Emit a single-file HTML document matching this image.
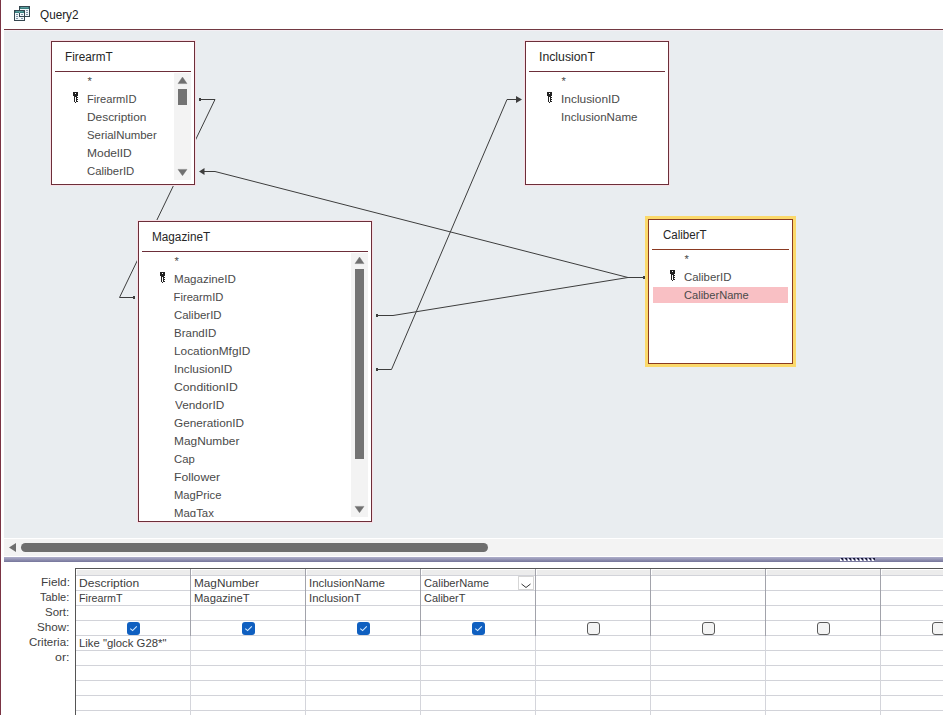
<!DOCTYPE html>
<html><head><meta charset="utf-8"><title>Query2</title>
<style>
*{margin:0;padding:0;box-sizing:border-box}
html,body{width:943px;height:715px;overflow:hidden;background:#fff;font-family:"Liberation Sans",sans-serif;color:#3a3a3a}
.abs{position:absolute}
</style></head><body>
<div class="abs" style="left:0;top:0;width:1px;height:715px;background:#7a3444"></div>
<svg class="abs" style="left:14px;top:6px" width="17" height="16" shape-rendering="crispEdges"><rect x="5" y="0" width="11" height="11" fill="#35464f"/><rect x="6" y="1" width="9" height="2" fill="#3a7f7f"/><rect x="7" y="1" width="7" height="1" fill="#5a9e9e"/><rect x="6" y="3" width="9" height="7" fill="#f0f6f9"/><rect x="12" y="4" width="2" height="1" fill="#7f93a6"/><rect x="12" y="6" width="2" height="1" fill="#7f93a6"/><rect x="12" y="8" width="2" height="1" fill="#7f93a6"/><rect x="0" y="4" width="11" height="11" fill="#35464f"/><rect x="1" y="5" width="9" height="2" fill="#3a7f7f"/><rect x="2" y="5" width="7" height="1" fill="#5a9e9e"/><rect x="5" y="5" width="1" height="2" fill="#6aa6a6"/><rect x="1" y="7" width="9" height="7" fill="#f0f6f9"/><rect x="2" y="8" width="2" height="1" fill="#7f93a6"/><rect x="2" y="10" width="2" height="1" fill="#7f93a6"/><rect x="2" y="12" width="2" height="1" fill="#7f93a6"/><rect x="7" y="8" width="2" height="1" fill="#7f93a6"/><rect x="7" y="12" width="2" height="1" fill="#7f93a6"/><rect x="5" y="7" width="1" height="4" fill="#35464f"/><rect x="5" y="10" width="6" height="1" fill="#35464f"/></svg>
<div class="abs" style="left:40.02px;top:8.0px;font-size:12px;line-height:14px;color:#222;white-space:nowrap;transform-origin:0 0;transform:scaleX(0.9789)">Query2</div>
<div class="abs" style="left:4px;top:29px;width:939px;height:1px;background:#723942"></div>
<div class="abs" style="left:4px;top:30px;width:939px;height:508px;background:#e9edf0"></div>
<div class="abs" style="left:4px;top:30px;width:939px;height:1px;background:#f3eef3"></div>
<svg class="abs" style="left:0;top:0" width="943" height="540">
<g stroke="#3d3d3d" stroke-width="1" fill="none">
<polyline points="199,99.5 215,99.5 119.5,297.5 134,297.5"/>
<polyline points="204,171.5 215,171.5 628,277.5 644,277.5"/>
<polyline points="377,315.5 393,315.5 628,277.5"/>
<polyline points="377,369.5 391.5,369.5 507,99.5 516,99.5"/>
</g>
<g fill="#3d3d3d">
<rect x="199" y="98" width="2" height="3"/>
<rect x="376" y="314" width="2" height="3"/>
<rect x="376" y="368" width="2" height="3"/>
<rect x="133" y="296" width="2" height="3"/>
<rect x="643" y="276" width="2" height="3"/>
<polygon points="199,171.5 204.5,168 204.5,175"/>
<polygon points="522,99.5 516,96 516,103"/>
</g>
</svg>
<div class="abs" style="left:51px;top:41px;width:144px;height:144px;background:#fff;border:1px solid #6c2e39;box-shadow:0 0 0 1px #f8dfe6"></div>
<div class="abs" style="left:65.02px;top:50.0px;font-size:12px;line-height:14px;color:#262626;white-space:nowrap;transform-origin:0 0;transform:scaleX(0.9787)">FirearmT</div>
<div class="abs" style="left:55px;top:71px;width:136px;height:1px;background:#6c2e39"></div>
<div class="abs" style="left:52px;top:73px;width:142px;height:108px;overflow:hidden">
<div class="abs" style="left:-52px;top:-73px;width:943px;height:715px">
<div class="abs" style="left:87.60px;top:74.0px;font-size:11.2px;line-height:14px;color:#4a4a4a;white-space:nowrap">*</div>
<div class="abs" style="left:86.60px;top:92.0px;font-size:11.2px;line-height:14px;color:#4a4a4a;white-space:nowrap;transform-origin:0 0;transform:scaleX(0.9958)">FirearmID</div>
<div class="abs" style="left:86.54px;top:110.0px;font-size:11.2px;line-height:14px;color:#4a4a4a;white-space:nowrap;transform-origin:0 0;transform:scaleX(1.0630)">Description</div>
<div class="abs" style="left:86.58px;top:128.0px;font-size:11.2px;line-height:14px;color:#4a4a4a;white-space:nowrap;transform-origin:0 0;transform:scaleX(1.0194)">SerialNumber</div>
<div class="abs" style="left:86.53px;top:146.0px;font-size:11.2px;line-height:14px;color:#4a4a4a;white-space:nowrap;transform-origin:0 0;transform:scaleX(1.0725)">ModelID</div>
<div class="abs" style="left:86.59px;top:164.0px;font-size:11.2px;line-height:14px;color:#4a4a4a;white-space:nowrap;transform-origin:0 0;transform:scaleX(1.0133)">CaliberID</div>
<div class="abs" style="left:86.57px;top:182.0px;font-size:11.2px;line-height:14px;color:#4a4a4a;white-space:nowrap;transform-origin:0 0;transform:scaleX(1.0300)">BrandID</div>
</div></div>
<svg class="abs" style="left:73px;top:92px" width="6" height="12" viewBox="0 0 6 12" shape-rendering="crispEdges"><rect x="0" y="0" width="5" height="4" fill="#222"/><rect x="2" y="1" width="1" height="1" fill="#fff"/><rect x="1" y="4" width="3" height="6" fill="#222"/><rect x="2" y="5" width="1" height="5" fill="#fff"/><rect x="2" y="10" width="1" height="1" fill="#222"/><rect x="4" y="5" width="1" height="1" fill="#222"/><rect x="4" y="7" width="1" height="1" fill="#222"/><rect x="4" y="9" width="1" height="1" fill="#222"/></svg>
<div class="abs" style="left:174px;top:73px;width:17px;height:107px;background:#f3f3f3"></div>
<svg class="abs" style="left:174px;top:73px" width="17" height="12"><polygon points="4,10.6 13,10.6 8.5,4" fill="#707070" stroke="#707070" stroke-width="0.4" stroke-linejoin="round"/></svg>
<svg class="abs" style="left:174px;top:168px" width="17" height="12"><polygon points="4,1.4 13,1.4 8.5,7.7" fill="#707070" stroke="#707070" stroke-width="0.4" stroke-linejoin="round"/></svg>
<div class="abs" style="left:178px;top:89px;width:9px;height:16px;background:#737373"></div>
<div class="abs" style="left:525px;top:41px;width:144px;height:144px;background:#fff;border:1px solid #6c2e39;box-shadow:0 0 0 1px #f8dfe6"></div>
<div class="abs" style="left:538.98px;top:50.0px;font-size:12px;line-height:14px;color:#262626;white-space:nowrap;transform-origin:0 0;transform:scaleX(1.0226)">InclusionT</div>
<div class="abs" style="left:529px;top:71px;width:136px;height:1px;background:#6c2e39"></div>
<div class="abs" style="left:526px;top:73px;width:142px;height:108px;overflow:hidden">
<div class="abs" style="left:-526px;top:-73px;width:943px;height:715px">
<div class="abs" style="left:561.60px;top:74.0px;font-size:11.2px;line-height:14px;color:#4a4a4a;white-space:nowrap">*</div>
<div class="abs" style="left:560.54px;top:92.0px;font-size:11.2px;line-height:14px;color:#4a4a4a;white-space:nowrap;transform-origin:0 0;transform:scaleX(1.0648)">InclusionID</div>
<div class="abs" style="left:560.57px;top:110.0px;font-size:11.2px;line-height:14px;color:#4a4a4a;white-space:nowrap;transform-origin:0 0;transform:scaleX(1.0329)">InclusionName</div>
</div></div>
<svg class="abs" style="left:547px;top:92px" width="6" height="12" viewBox="0 0 6 12" shape-rendering="crispEdges"><rect x="0" y="0" width="5" height="4" fill="#222"/><rect x="2" y="1" width="1" height="1" fill="#fff"/><rect x="1" y="4" width="3" height="6" fill="#222"/><rect x="2" y="5" width="1" height="5" fill="#fff"/><rect x="2" y="10" width="1" height="1" fill="#222"/><rect x="4" y="5" width="1" height="1" fill="#222"/><rect x="4" y="7" width="1" height="1" fill="#222"/><rect x="4" y="9" width="1" height="1" fill="#222"/></svg>
<div class="abs" style="left:138px;top:221px;width:234px;height:301px;background:#fff;border:1px solid #6c2e39;box-shadow:0 0 0 1px #f8dfe6"></div>
<div class="abs" style="left:151.72px;top:230.0px;font-size:12px;line-height:14px;color:#262626;white-space:nowrap;transform-origin:0 0;transform:scaleX(0.9793)">MagazineT</div>
<div class="abs" style="left:142px;top:251px;width:226px;height:1px;background:#6c2e39"></div>
<div class="abs" style="left:139px;top:253px;width:232px;height:264px;overflow:hidden">
<div class="abs" style="left:-139px;top:-253px;width:943px;height:715px">
<div class="abs" style="left:174.60px;top:254.0px;font-size:11.2px;line-height:14px;color:#4a4a4a;white-space:nowrap">*</div>
<div class="abs" style="left:173.57px;top:272.0px;font-size:11.2px;line-height:14px;color:#4a4a4a;white-space:nowrap;transform-origin:0 0;transform:scaleX(1.0345)">MagazineID</div>
<div class="abs" style="left:173.60px;top:290.0px;font-size:11.2px;line-height:14px;color:#4a4a4a;white-space:nowrap">FirearmID</div>
<div class="abs" style="left:173.58px;top:308.0px;font-size:11.2px;line-height:14px;color:#4a4a4a;white-space:nowrap;transform-origin:0 0;transform:scaleX(1.0200)">CaliberID</div>
<div class="abs" style="left:173.57px;top:326.0px;font-size:11.2px;line-height:14px;color:#4a4a4a;white-space:nowrap;transform-origin:0 0;transform:scaleX(1.0300)">BrandID</div>
<div class="abs" style="left:173.54px;top:344.0px;font-size:11.2px;line-height:14px;color:#4a4a4a;white-space:nowrap;transform-origin:0 0;transform:scaleX(1.0577)">LocationMfgID</div>
<div class="abs" style="left:173.55px;top:362.0px;font-size:11.2px;line-height:14px;color:#4a4a4a;white-space:nowrap;transform-origin:0 0;transform:scaleX(1.0537)">InclusionID</div>
<div class="abs" style="left:173.51px;top:380.0px;font-size:11.2px;line-height:14px;color:#4a4a4a;white-space:nowrap;transform-origin:0 0;transform:scaleX(1.0912)">ConditionID</div>
<div class="abs" style="left:174.60px;top:398.0px;font-size:11.2px;line-height:14px;color:#4a4a4a;white-space:nowrap;transform-origin:0 0;transform:scaleX(1.0543)">VendorID</div>
<div class="abs" style="left:173.55px;top:416.0px;font-size:11.2px;line-height:14px;color:#4a4a4a;white-space:nowrap;transform-origin:0 0;transform:scaleX(1.0538)">GenerationID</div>
<div class="abs" style="left:173.54px;top:434.0px;font-size:11.2px;line-height:14px;color:#4a4a4a;white-space:nowrap;transform-origin:0 0;transform:scaleX(1.0633)">MagNumber</div>
<div class="abs" style="left:173.59px;top:452.0px;font-size:11.2px;line-height:14px;color:#4a4a4a;white-space:nowrap;transform-origin:0 0;transform:scaleX(1.0105)">Cap</div>
<div class="abs" style="left:173.51px;top:470.0px;font-size:11.2px;line-height:14px;color:#4a4a4a;white-space:nowrap;transform-origin:0 0;transform:scaleX(1.0878)">Follower</div>
<div class="abs" style="left:173.60px;top:488.0px;font-size:11.2px;line-height:14px;color:#4a4a4a;white-space:nowrap;transform-origin:0 0;transform:scaleX(1.0043)">MagPrice</div>
<div class="abs" style="left:173.58px;top:506.0px;font-size:11.2px;line-height:14px;color:#4a4a4a;white-space:nowrap;transform-origin:0 0;transform:scaleX(1.0184)">MagTax</div>
<div class="abs" style="left:173.60px;top:524.0px;font-size:11.2px;line-height:14px;color:#4a4a4a;white-space:nowrap">MagNotes</div>
</div></div>
<svg class="abs" style="left:160px;top:272px" width="6" height="12" viewBox="0 0 6 12" shape-rendering="crispEdges"><rect x="0" y="0" width="5" height="4" fill="#222"/><rect x="2" y="1" width="1" height="1" fill="#fff"/><rect x="1" y="4" width="3" height="6" fill="#222"/><rect x="2" y="5" width="1" height="5" fill="#fff"/><rect x="2" y="10" width="1" height="1" fill="#222"/><rect x="4" y="5" width="1" height="1" fill="#222"/><rect x="4" y="7" width="1" height="1" fill="#222"/><rect x="4" y="9" width="1" height="1" fill="#222"/></svg>
<div class="abs" style="left:351px;top:253px;width:17px;height:264px;background:#f3f3f3"></div>
<svg class="abs" style="left:351px;top:253px" width="17" height="12"><polygon points="4,10.6 13,10.6 8.5,4" fill="#707070" stroke="#707070" stroke-width="0.4" stroke-linejoin="round"/></svg>
<svg class="abs" style="left:351px;top:505px" width="17" height="12"><polygon points="4,1.4 13,1.4 8.5,7.7" fill="#707070" stroke="#707070" stroke-width="0.4" stroke-linejoin="round"/></svg>
<div class="abs" style="left:355px;top:269px;width:9px;height:190px;background:#737373"></div>
<div class="abs" style="left:645px;top:216px;width:151px;height:151px;background:#fbd96b"></div>
<div class="abs" style="left:648px;top:219px;width:145px;height:145px;background:#fff;border:1px solid #8a3a22"></div>
<div class="abs" style="left:663.04px;top:228.0px;font-size:12px;line-height:14px;color:#262626;white-space:nowrap;transform-origin:0 0;transform:scaleX(0.9614)">CaliberT</div>
<div class="abs" style="left:652px;top:249px;width:137px;height:1px;background:#8a3a22"></div>
<div class="abs" style="left:653px;top:287px;width:135px;height:16px;background:#f9c0c4"></div>
<div class="abs" style="left:649px;top:251px;width:143px;height:109px;overflow:hidden">
<div class="abs" style="left:-649px;top:-251px;width:943px;height:715px">
<div class="abs" style="left:684.60px;top:252.0px;font-size:11.2px;line-height:14px;color:#4a4a4a;white-space:nowrap">*</div>
<div class="abs" style="left:683.58px;top:270.0px;font-size:11.2px;line-height:14px;color:#4a4a4a;white-space:nowrap;transform-origin:0 0;transform:scaleX(1.0178)">CaliberID</div>
<div class="abs" style="left:683.61px;top:288.0px;font-size:11.2px;line-height:14px;color:#4a4a4a;white-space:nowrap;transform-origin:0 0;transform:scaleX(0.9922)">CaliberName</div>
</div></div>
<svg class="abs" style="left:670px;top:270px" width="6" height="12" viewBox="0 0 6 12" shape-rendering="crispEdges"><rect x="0" y="0" width="5" height="4" fill="#222"/><rect x="2" y="1" width="1" height="1" fill="#fff"/><rect x="1" y="4" width="3" height="6" fill="#222"/><rect x="2" y="5" width="1" height="5" fill="#fff"/><rect x="2" y="10" width="1" height="1" fill="#222"/><rect x="4" y="5" width="1" height="1" fill="#222"/><rect x="4" y="7" width="1" height="1" fill="#222"/><rect x="4" y="9" width="1" height="1" fill="#222"/></svg>
<div class="abs" style="left:4px;top:539px;width:939px;height:17px;background:#f3f3f3"></div>
<svg class="abs" style="left:4px;top:539px" width="20" height="17"><polygon points="5,8.5 12,4 12,13" fill="#6e6e6e"/></svg>
<div class="abs" style="left:21px;top:543px;width:467px;height:9px;border-radius:4.5px;background:#6e6e6e"></div>
<div class="abs" style="left:4px;top:557px;width:939px;height:5px;background:linear-gradient(#b0b0cb,#75759a)"></div>
<svg class="abs" style="left:840px;top:557.5px" width="36" height="3" shape-rendering="crispEdges"><rect x="1" y="0" width="2" height="1" fill="#1c1c38"/><rect x="2" y="1" width="1" height="1" fill="#1c1c38"/><rect x="0" y="1" width="1" height="2" fill="#fff"/><rect x="1" y="2" width="1" height="1" fill="#fff"/><rect x="5" y="0" width="2" height="1" fill="#1c1c38"/><rect x="6" y="1" width="1" height="1" fill="#1c1c38"/><rect x="4" y="1" width="1" height="2" fill="#fff"/><rect x="5" y="2" width="1" height="1" fill="#fff"/><rect x="9" y="0" width="2" height="1" fill="#1c1c38"/><rect x="10" y="1" width="1" height="1" fill="#1c1c38"/><rect x="8" y="1" width="1" height="2" fill="#fff"/><rect x="9" y="2" width="1" height="1" fill="#fff"/><rect x="13" y="0" width="2" height="1" fill="#1c1c38"/><rect x="14" y="1" width="1" height="1" fill="#1c1c38"/><rect x="12" y="1" width="1" height="2" fill="#fff"/><rect x="13" y="2" width="1" height="1" fill="#fff"/><rect x="17" y="0" width="2" height="1" fill="#1c1c38"/><rect x="18" y="1" width="1" height="1" fill="#1c1c38"/><rect x="16" y="1" width="1" height="2" fill="#fff"/><rect x="17" y="2" width="1" height="1" fill="#fff"/><rect x="21" y="0" width="2" height="1" fill="#1c1c38"/><rect x="22" y="1" width="1" height="1" fill="#1c1c38"/><rect x="20" y="1" width="1" height="2" fill="#fff"/><rect x="21" y="2" width="1" height="1" fill="#fff"/><rect x="25" y="0" width="2" height="1" fill="#1c1c38"/><rect x="26" y="1" width="1" height="1" fill="#1c1c38"/><rect x="24" y="1" width="1" height="2" fill="#fff"/><rect x="25" y="2" width="1" height="1" fill="#fff"/><rect x="29" y="0" width="2" height="1" fill="#1c1c38"/><rect x="30" y="1" width="1" height="1" fill="#1c1c38"/><rect x="28" y="1" width="1" height="2" fill="#fff"/><rect x="29" y="2" width="1" height="1" fill="#fff"/><rect x="33" y="0" width="2" height="1" fill="#1c1c38"/><rect x="34" y="1" width="1" height="1" fill="#1c1c38"/><rect x="32" y="1" width="1" height="2" fill="#fff"/><rect x="33" y="2" width="1" height="1" fill="#fff"/></svg>
<div class="abs" style="left:75px;top:568px;width:868px;height:1px;background:#555"></div>
<div class="abs" style="left:75px;top:568px;width:1px;height:147px;background:#555"></div>
<div class="abs" style="left:77px;top:570px;width:866px;height:5px;background:#ececec"></div>
<div class="abs" style="left:76px;top:575px;width:867px;height:1px;background:#d2d3d9"></div>
<div class="abs" style="left:76px;top:590px;width:867px;height:1px;background:#d2d3d9"></div>
<div class="abs" style="left:76px;top:605px;width:867px;height:1px;background:#d2d3d9"></div>
<div class="abs" style="left:76px;top:620px;width:867px;height:1px;background:#d2d3d9"></div>
<div class="abs" style="left:76px;top:635px;width:867px;height:1px;background:#d2d3d9"></div>
<div class="abs" style="left:76px;top:650px;width:867px;height:1px;background:#d2d3d9"></div>
<div class="abs" style="left:76px;top:665px;width:867px;height:1px;background:#d2d3d9"></div>
<div class="abs" style="left:76px;top:680px;width:867px;height:1px;background:#d2d3d9"></div>
<div class="abs" style="left:76px;top:695px;width:867px;height:1px;background:#d2d3d9"></div>
<div class="abs" style="left:76px;top:710px;width:867px;height:1px;background:#d2d3d9"></div>
<div class="abs" style="left:190px;top:569px;width:1px;height:67px;background:#a2a3ab"></div>
<div class="abs" style="left:191px;top:570px;width:1px;height:5px;background:#fff"></div>
<div class="abs" style="left:190px;top:636px;width:1px;height:79px;background:#d4d5db"></div>
<div class="abs" style="left:305px;top:569px;width:1px;height:67px;background:#a2a3ab"></div>
<div class="abs" style="left:306px;top:570px;width:1px;height:5px;background:#fff"></div>
<div class="abs" style="left:305px;top:636px;width:1px;height:79px;background:#d4d5db"></div>
<div class="abs" style="left:420px;top:569px;width:1px;height:67px;background:#a2a3ab"></div>
<div class="abs" style="left:421px;top:570px;width:1px;height:5px;background:#fff"></div>
<div class="abs" style="left:420px;top:636px;width:1px;height:79px;background:#d4d5db"></div>
<div class="abs" style="left:535px;top:569px;width:1px;height:67px;background:#a2a3ab"></div>
<div class="abs" style="left:536px;top:570px;width:1px;height:5px;background:#fff"></div>
<div class="abs" style="left:535px;top:636px;width:1px;height:79px;background:#d4d5db"></div>
<div class="abs" style="left:650px;top:569px;width:1px;height:67px;background:#a2a3ab"></div>
<div class="abs" style="left:651px;top:570px;width:1px;height:5px;background:#fff"></div>
<div class="abs" style="left:650px;top:636px;width:1px;height:79px;background:#d4d5db"></div>
<div class="abs" style="left:765px;top:569px;width:1px;height:67px;background:#a2a3ab"></div>
<div class="abs" style="left:766px;top:570px;width:1px;height:5px;background:#fff"></div>
<div class="abs" style="left:765px;top:636px;width:1px;height:79px;background:#d4d5db"></div>
<div class="abs" style="left:880px;top:569px;width:1px;height:67px;background:#a2a3ab"></div>
<div class="abs" style="left:881px;top:570px;width:1px;height:5px;background:#fff"></div>
<div class="abs" style="left:880px;top:636px;width:1px;height:79px;background:#d4d5db"></div>
<div class="abs" style="left:40.74px;top:575.0px;font-size:11.2px;line-height:14px;color:#3e3e3e;white-space:nowrap;transform-origin:0 0;transform:scaleX(1.0600)">Field:</div>
<div class="abs" style="left:39.90px;top:590.0px;font-size:11.2px;line-height:14px;color:#3e3e3e;white-space:nowrap;transform-origin:0 0;transform:scaleX(0.9793)">Table:</div>
<div class="abs" style="left:44.78px;top:605.0px;font-size:11.2px;line-height:14px;color:#3e3e3e;white-space:nowrap;transform-origin:0 0;transform:scaleX(1.0227)">Sort:</div>
<div class="abs" style="left:36.96px;top:620.0px;font-size:11.2px;line-height:14px;color:#3e3e3e;white-space:nowrap;transform-origin:0 0;transform:scaleX(1.0448)">Show:</div>
<div class="abs" style="left:29.27px;top:635.0px;font-size:11.2px;line-height:14px;color:#3e3e3e;white-space:nowrap;transform-origin:0 0;transform:scaleX(1.0270)">Criteria:</div>
<div class="abs" style="left:54.99px;top:650.0px;font-size:11.2px;line-height:14px;color:#3e3e3e;white-space:nowrap;transform-origin:0 0;transform:scaleX(1.1091)">or:</div>
<div class="abs" style="left:78.52px;top:576.0px;font-size:11.2px;line-height:14px;color:#3c3c3c;white-space:nowrap;transform-origin:0 0;transform:scaleX(1.0759)">Description</div>
<div class="abs" style="left:78.64px;top:591.0px;font-size:11.2px;line-height:14px;color:#3c3c3c;white-space:nowrap;transform-origin:0 0;transform:scaleX(0.9591)">FirearmT</div>
<div class="abs" style="left:193.55px;top:576.0px;font-size:11.2px;line-height:14px;color:#3c3c3c;white-space:nowrap;transform-origin:0 0;transform:scaleX(1.0533)">MagNumber</div>
<div class="abs" style="left:193.59px;top:591.0px;font-size:11.2px;line-height:14px;color:#3c3c3c;white-space:nowrap;transform-origin:0 0;transform:scaleX(1.0056)">MagazineT</div>
<div class="abs" style="left:308.58px;top:576.0px;font-size:11.2px;line-height:14px;color:#3c3c3c;white-space:nowrap;transform-origin:0 0;transform:scaleX(1.0247)">InclusionName</div>
<div class="abs" style="left:308.58px;top:591.0px;font-size:11.2px;line-height:14px;color:#3c3c3c;white-space:nowrap;transform-origin:0 0;transform:scaleX(1.0180)">InclusionT</div>
<div class="abs" style="left:423.61px;top:576.0px;font-size:11.2px;line-height:14px;color:#3c3c3c;white-space:nowrap;transform-origin:0 0;transform:scaleX(0.9938)">CaliberName</div>
<div class="abs" style="left:423.62px;top:591.0px;font-size:11.2px;line-height:14px;color:#3c3c3c;white-space:nowrap;transform-origin:0 0;transform:scaleX(0.9780)">CaliberT</div>
<div class="abs" style="left:78.59px;top:636.0px;font-size:11.2px;line-height:14px;color:#3c3c3c;white-space:nowrap;transform-origin:0 0;transform:scaleX(1.0129)">Like "glock G28*"</div>
<div class="abs" style="left:518px;top:576px;width:16px;height:14px;background:#fff;border:1px solid #d6d6d6"></div>
<svg class="abs" style="left:518px;top:576px" width="16" height="14"><polyline points="3.5,8 8,11.5 12.5,8" fill="none" stroke="#333" stroke-width="1"/></svg>
<svg class="abs" style="left:127px;top:622px" width="13" height="13"><rect x="0" y="0" width="13" height="13" rx="3" fill="#0f5fc0"/><polyline points="3.3,6.6 5.6,8.6 9.8,4.3" fill="none" stroke="#d8ecff" stroke-width="1.1"/></svg>
<svg class="abs" style="left:242px;top:622px" width="13" height="13"><rect x="0" y="0" width="13" height="13" rx="3" fill="#0f5fc0"/><polyline points="3.3,6.6 5.6,8.6 9.8,4.3" fill="none" stroke="#d8ecff" stroke-width="1.1"/></svg>
<svg class="abs" style="left:357px;top:622px" width="13" height="13"><rect x="0" y="0" width="13" height="13" rx="3" fill="#0f5fc0"/><polyline points="3.3,6.6 5.6,8.6 9.8,4.3" fill="none" stroke="#d8ecff" stroke-width="1.1"/></svg>
<svg class="abs" style="left:472px;top:622px" width="13" height="13"><rect x="0" y="0" width="13" height="13" rx="3" fill="#0f5fc0"/><polyline points="3.3,6.6 5.6,8.6 9.8,4.3" fill="none" stroke="#d8ecff" stroke-width="1.1"/></svg>
<svg class="abs" style="left:587px;top:622px" width="13" height="13"><rect x="0.5" y="0.5" width="12" height="12" rx="2.5" fill="#f4f4f4" stroke="#5a5a5a" stroke-width="1"/></svg>
<svg class="abs" style="left:702px;top:622px" width="13" height="13"><rect x="0.5" y="0.5" width="12" height="12" rx="2.5" fill="#f4f4f4" stroke="#5a5a5a" stroke-width="1"/></svg>
<svg class="abs" style="left:817px;top:622px" width="13" height="13"><rect x="0.5" y="0.5" width="12" height="12" rx="2.5" fill="#f4f4f4" stroke="#5a5a5a" stroke-width="1"/></svg>
<svg class="abs" style="left:932px;top:622px" width="13" height="13"><rect x="0.5" y="0.5" width="12" height="12" rx="2.5" fill="#f4f4f4" stroke="#5a5a5a" stroke-width="1"/></svg>
</body></html>
